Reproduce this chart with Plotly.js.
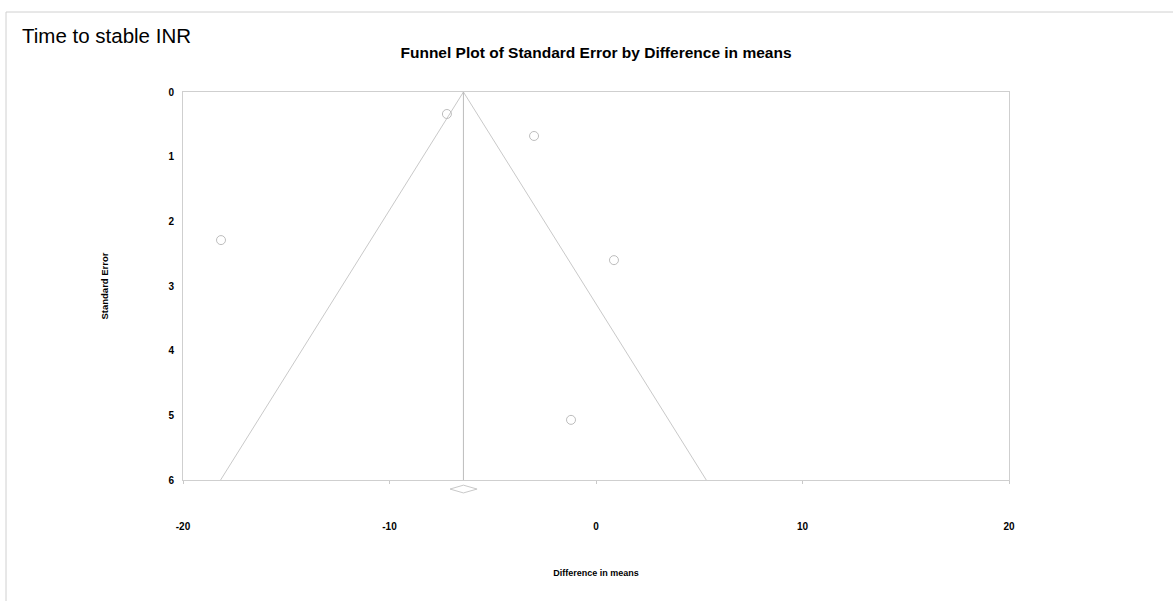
<!DOCTYPE html>
<html>
<head>
<meta charset="utf-8">
<script src="https://cdn.plot.ly/plotly-3.0.1.min.js"></script>
<style>
html,body{margin:0;padding:0;background:#fff;}
#chart{width:1173px;height:601px;}
</style>
</head>
<body>
<div id="chart"></div>
<script>
// Study points: difference in means and standard error
var studyDiff = [-7.22, -3.0, -18.16, 0.87, -1.21];
var studySE   = [0.34, 0.68, 2.29, 2.60, 5.07];

// Pooled estimate (vertical line) and funnel limits
var pooledLineX = [-6.42, -6.42];
var pooledLineY = [0, 6];
var funnelX = [-18.18, -6.42, 5.34];
var funnelY = [6, 0, 6];

// Summary diamond below the axis
var diamondX = [-7.07, -6.42, -5.76, -6.42, -7.07];
var diamondY = [6.14, 6.08, 6.14, 6.2, 6.14];

var xTicks = [-20, -10, 0, 10, 20];
var yTicks = [0, 1, 2, 3, 4, 5, 6];

var FONT = 'Liberation Sans, Arial, sans-serif';
var lineGrey = '#c9c9c9';

var traces = [
  {x: funnelX, y: funnelY, mode: 'lines', type: 'scatter',
   line: {color: lineGrey, width: 1}, hoverinfo: 'skip', showlegend: false},
  {x: pooledLineX, y: pooledLineY, mode: 'lines', type: 'scatter',
   line: {color: '#bcbcbc', width: 1}, hoverinfo: 'skip', showlegend: false},
  {x: studyDiff, y: studySE, mode: 'markers', type: 'scatter',
   marker: {symbol: 'circle-open', size: 9, color: '#bdbdbd', line: {width: 1, color: '#bdbdbd'}},
   showlegend: false},
  {x: diamondX, y: diamondY, mode: 'lines', type: 'scatter', xaxis: 'x', yaxis: 'y2',
   line: {color: '#c9c9c9', width: 1}, hoverinfo: 'skip', showlegend: false}
];

var plotTopPx = 92, plotBotPx = 500, mainBotPx = 480;
var plotH = plotBotPx - plotTopPx;
var splitFrac = (plotBotPx - mainBotPx) / plotH;
var pxPerUnit = (mainBotPx - plotTopPx) / 6;

function paperY(px){ return (plotBotPx - px) / plotH; }
function paperX(px){ return (px - 183) / (1009 - 183); }

var layout = {
  width: 1173, height: 601,
  margin: {l: 183, r: 164, t: plotTopPx, b: 601 - plotBotPx},
  paper_bgcolor: '#ffffff', plot_bgcolor: '#ffffff',
  font: {family: FONT, color: '#000'},
  showlegend: false,
  title: {
    text: 'Funnel Plot of Standard Error by Difference in means',
    font: {family: FONT, size: 15.5, weight: 'bold', color: '#000'},
    x: 0.5, xref: 'paper', xanchor: 'center',
    y: 1 - 53/601, yref: 'container', yanchor: 'middle'
  },
  xaxis: {
    range: [-20, 20], anchor: 'y',
    tickvals: xTicks, ticktext: xTicks.map(String),
    ticks: 'outside', ticklen: 3, tickcolor: '#c9c9c9', tickwidth: 1,
    ticklabelstandoff: 34,
    tickfont: {family: FONT, size: 10, weight: 'bold', color: '#000'},
    showgrid: false, zeroline: false,
    showline: true, linecolor: '#cfcfcf', linewidth: 1, mirror: true,
    title: {text: 'Difference in means', standoff: 38,
            font: {family: FONT, size: 9, weight: 'bold', color: '#000'}}
  },
  yaxis: {
    domain: [splitFrac, 1],
    range: [6, 0], anchor: 'x',
    tickvals: yTicks, ticktext: yTicks.map(String),
    ticks: '', ticklabelstandoff: 6,
    tickfont: {family: FONT, size: 10, weight: 'bold', color: '#000'},
    showgrid: false, zeroline: false,
    showline: true, linecolor: '#cfcfcf', linewidth: 1, mirror: true,
    title: {text: 'Standard Error', standoff: 58,
            font: {family: FONT, size: 9.5, weight: 'bold', color: '#000'}}
  },
  yaxis2: {
    domain: [0, splitFrac], anchor: 'x',
    range: [6 + (plotBotPx - mainBotPx) / pxPerUnit, 6],
    visible: false, showgrid: false, zeroline: false
  },
  annotations: [
    {text: 'Time to stable INR', xref: 'paper', yref: 'paper',
     x: paperX(20), y: paperY(35), xanchor: 'left', yanchor: 'middle',
     showarrow: false, font: {family: FONT, size: 20.5, color: '#000'}}
  ],
  shapes: [
    {type: 'line', xref: 'paper', yref: 'paper',
     x0: paperX(6), x1: paperX(1173), y0: paperY(12), y1: paperY(12),
     line: {color: '#d0d0d0', width: 1}},
    {type: 'line', xref: 'paper', yref: 'paper',
     x0: paperX(6), x1: paperX(6), y0: paperY(12), y1: paperY(601),
     line: {color: '#d0d0d0', width: 1}}
  ]
};

Plotly.newPlot('chart', traces, layout, {displayModeBar: false, staticPlot: true});
</script>
</body>
</html>
